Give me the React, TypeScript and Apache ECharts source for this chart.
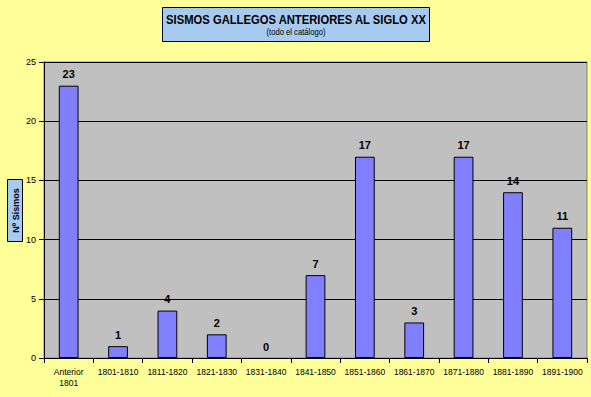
import React, { useEffect, useRef } from "react";
import * as echarts from "echarts";

const categories = ["Anterior\n1801", "1801-1810", "1811-1820", "1821-1830", "1831-1840", "1841-1850", "1851-1860", "1861-1870", "1871-1880", "1881-1890", "1891-1900"];
const values = [23, 1, 4, 2, 0, 7, 17, 3, 17, 14, 11];
const titleText = "SISMOS GALLEGOS ANTERIORES AL SIGLO XX";
const subtitleText = "(todo el catálogo)";
const yAxisName = "Nº Sismos";

export default function App() {
  const ref = useRef<HTMLDivElement>(null);
  useEffect(() => {
    if (!ref.current) return;
    const chart = echarts.init(ref.current, null, { renderer: "svg" });
    chart.setOption({
      animation: false,
      backgroundColor: "#FFFF99",
      textStyle: { fontFamily: "Arial, 'Liberation Sans', sans-serif" },
      grid: {
        left: 44, right: 4, top: 62, bottom: 39,
        outerBoundsMode: "none", containLabel: false,
        show: true, backgroundColor: "#C0C0C0", borderColor: "#808080", borderWidth: 1,
      },
      graphic: [
        {
          type: "rect",
          shape: { x: 162.5, y: 7.5, width: 267, height: 34 },
          style: { fill: "#A6CAF0", stroke: "#000", lineWidth: 1 },
        },
        {
          type: "text",
          x: 296, y: 20, scaleX: 0.865,
          style: { text: titleText, font: "bold 13px Arial, 'Liberation Sans', sans-serif", fill: "#000", align: "center", verticalAlign: "middle" },
        },
        {
          type: "text",
          x: 296, y: 32, scaleX: 0.9,
          style: { text: subtitleText, font: "8.5px Arial, 'Liberation Sans', sans-serif", fill: "#000", align: "center", verticalAlign: "middle" },
        },
        {
          type: "rect",
          shape: { x: 7.5, y: 179.5, width: 15, height: 62 },
          style: { fill: "#A6CAF0", stroke: "#000", lineWidth: 1 },
        },
        {
          type: "text",
          x: 15.5, y: 210.5, rotation: Math.PI / 2,
          style: { text: yAxisName, font: "bold 9px Arial, 'Liberation Sans', sans-serif", fill: "#000", align: "center", verticalAlign: "middle" },
        },
      ],
      xAxis: {
        type: "category",
        data: categories,
        axisLine: { lineStyle: { color: "#000", width: 1 } },
        axisTick: { show: true, length: 5, lineStyle: { color: "#000" } },
        axisLabel: { color: "#000", fontSize: 8.5, margin: 8, interval: 0, lineHeight: 11 },
      },
      yAxis: {
        type: "value",
        min: 0, max: 25, interval: 5,
        axisLine: { show: true, lineStyle: { color: "#000", width: 1 } },
        axisTick: { show: true, length: 5, lineStyle: { color: "#000" } },
        axisLabel: { color: "#000", fontSize: 9, margin: 8 },
        splitLine: { show: true, lineStyle: { color: "#000", width: 1 } },
      },
      series: [
        {
          type: "bar",
          data: values.map((v) => (v === 0 ? { value: v, itemStyle: { borderWidth: 0 } } : v)),
          barWidth: "40%",
          itemStyle: { color: "#8080FF", borderColor: "#000", borderWidth: 1 },
          label: { show: true, position: "top", distance: 6, color: "#000", fontSize: 11, fontWeight: "bold" },
        },
      ],
    });
    return () => chart.dispose();
  }, []);
  return <div ref={ref} style={{ width: 591, height: 397, position: "absolute", left: 0, top: 0 }} />;
}
